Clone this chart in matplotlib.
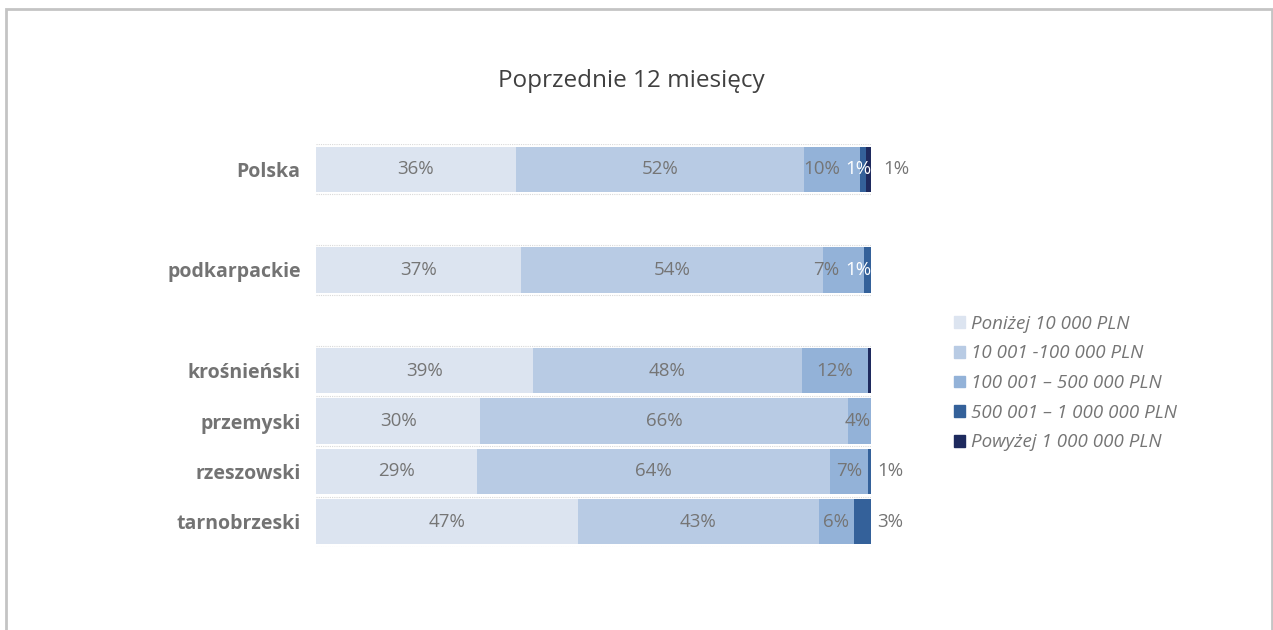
import matplotlib
matplotlib.use("Agg")
import matplotlib.pyplot as plt
from matplotlib.patches import Rectangle
import numpy as np

plt.rcParams['font.family'] = ['Open Sans', 'DejaVu Sans']

categories = ["Polska", "", "podkarpackie", "", "krośnieński", "przemyski", "rzeszowski", "tarnobrzeski"]
series_names = ["Poniżej 10 000 PLN", "10 001 -100 000 PLN", "100 001 – 500 000 PLN",
                "500 001 – 1 000 000 PLN", "Powyżej 1 000 000 PLN"]
s1 = [36.0, 0, 37.0, 0, 39.1, 29.6, 29.0, 47.2]
s2 = [51.9, 0, 54.4, 0, 48.4, 66.2, 63.6, 43.4]
s3 = [10.2, 0, 7.3, 0, 12.0, 4.2, 6.8, 6.3]
s4 = [1.0, 0, 1.3, 0, 0.0, 0.0, 0.6, 3.1]
s5 = [0.9, 0, 0.0, 0, 0.5, 0.0, 0.0, 0.0]
series = [s1, s2, s3, s4, s5]
# which labels are shown: (row, series) -> placement
label_mode = {
    (0, 0): "c", (0, 1): "c", (0, 2): "c10", (0, 3): "in_w", (0, 4): "out",
    (2, 0): "c", (2, 1): "c", (2, 2): "c7", (2, 3): "in_w",
    (4, 0): "c", (4, 1): "c", (4, 2): "c",
    (5, 0): "c", (5, 1): "c", (5, 2): "in",
    (6, 0): "c", (6, 1): "c", (6, 2): "c", (6, 3): "out",
    (7, 0): "c", (7, 1): "c", (7, 2): "c", (7, 3): "out",
}

colors = ["#DCE4F0", "#B8CBE4", "#93B2D8", "#34619A", "#1E2A5E"]
txt = "#757575"

W, H = 1273, 630
fig = plt.figure(figsize=(W / 100, H / 100), dpi=100)
ax = fig.add_axes([316 / W, 1 - 547 / H, (871 - 316) / W, (547 - 144) / H])

y = np.arange(len(categories))
left = np.zeros(len(categories))
for i, vals in enumerate(series):
    v = np.array(vals, dtype=float)
    ax.barh(y, v, left=left, height=0.9, color=colors[i], label=series_names[i], zorder=2)
    for r in range(len(categories)):
        mode = label_mode.get((r, i))
        if mode is None:
            continue
        lab = f"{int(np.floor(v[r] + 0.5))}%"
        cx = left[r] + v[r] / 2
        col = txt
        ha = "center"
        if mode == "in_w":
            cx = 100.0
            ha = "right"
            col = "white"
        elif mode == "in":
            cx = 100.0
            ha = "right"
        elif mode == "out":
            cx = 1.2 + 100 if r != 0 else 102.3
            ha = "left"
        elif mode == "c10":
            cx = cx - 1.8
        elif mode == "c7":
            cx = cx - 3.2
        ax.text(cx, r, lab, ha=ha, va="center", fontsize=13.5, color=col, zorder=3)
    left = left + v

ax.set_xlim(0, 100)
ax.set_ylim(len(categories) - 0.5, -0.5)
ax.set_yticks(y)
ax.set_yticklabels(categories, fontsize=14, fontweight="bold", color="#737373")
ax.tick_params(axis="y", length=0, pad=11)
ax.set_xticks([])
ax.set_yticks(np.arange(len(categories) + 1) - 0.5, minor=True)
ax.tick_params(axis="y", which="minor", length=0)
ax.grid(axis="y", which="minor", color="#D9D9D9", linestyle=(0, (1, 1)), linewidth=0.8, zorder=0)
ax.grid(axis="y", which="major", visible=False)
for s in ax.spines.values():
    s.set_visible(False)

fig.text(631 / W, 1 - 81 / H, "Poprzednie 12 miesięcy", ha="center", va="center",
         fontsize=17.5, color="#404040")

handles = [Rectangle((0, 0), 1, 1, color=c) for c in colors]
leg = fig.legend(handles, series_names, loc="upper left",
                 bbox_to_anchor=(937 / W, 1 - 298 / H), frameon=False,
                 handlelength=0.6, handleheight=0.6, handletextpad=0.3,
                 labelspacing=0.62, prop={"style": "italic", "size": 13.5})
for t in leg.get_texts():
    t.set_color(txt)

fig.patches.append(Rectangle((6 / W, -0.05), (1266 / W), 1 - 9 / H + 0.05,
                             transform=fig.transFigure, fill=False,
                             edgecolor="#C4C4C4", linewidth=2, zorder=0))

fig.savefig("out.png", dpi=100, facecolor="white")
